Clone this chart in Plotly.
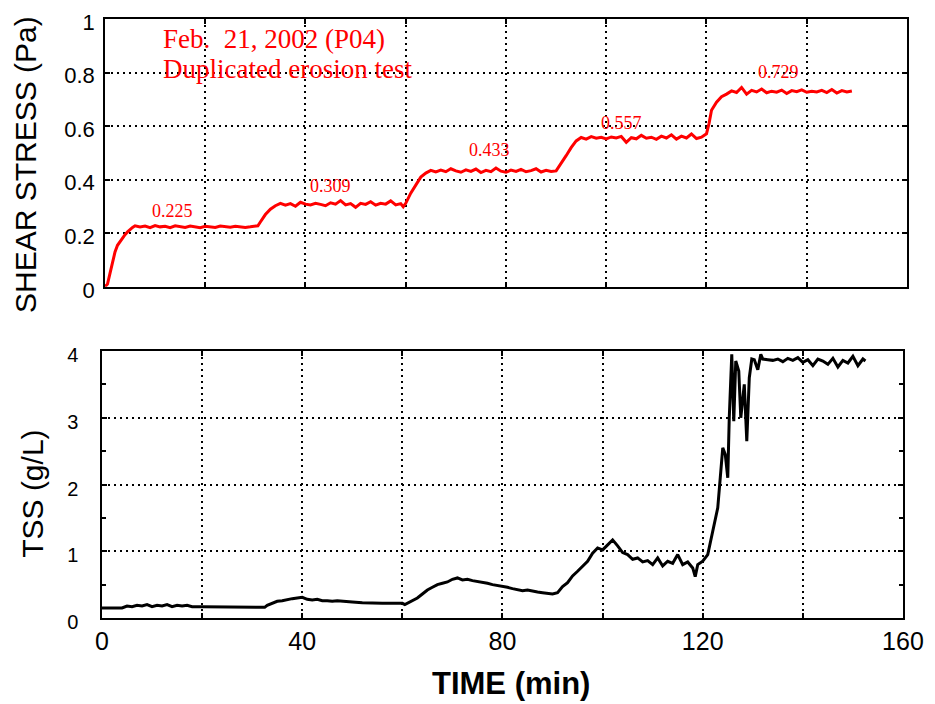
import plotly.graph_objects as go

# shear stress record (min, Pa)
shear_t = [0, 0.5, 1, 1.5, 2, 2.5, 3, 3.5, 4, 4.5, 5, 5.5, 6, 7, 8, 9, 10, 11, 12, 13, 14, 15, 16, 17, 18, 19,
           20, 21, 22, 23, 24, 25, 26, 27, 28, 29, 30, 30.5, 31, 32, 33, 34, 35, 36, 37, 38, 39, 40, 41, 42,
           43, 44, 45, 46, 47, 48, 49, 50, 51, 52, 53, 54, 55, 56, 57, 58, 59, 59.5, 60, 60.5, 61, 62, 63, 64,
           65, 66, 67, 68, 69, 70, 71, 72, 73, 74, 75, 76, 77, 78, 79, 80, 81, 82, 83, 84, 85, 86, 87, 88, 89,
           90, 91, 92, 93, 94, 95, 96, 97, 98, 99, 100, 101, 102, 103, 104, 105, 106, 107, 108, 109, 110, 111,
           112, 113, 114, 115, 116, 117, 118, 119, 120, 120.5, 121, 122, 123, 124, 125, 126, 127, 128, 129,
           130, 131, 132, 133, 134, 135, 136, 137, 138, 139, 140, 141, 142, 143, 144, 145, 146, 147, 148, 149,
           149.5]
shear_v = [0, 0.01, 0.05, 0.09, 0.13, 0.155, 0.17, 0.185, 0.195, 0.205, 0.215, 0.222, 0.228, 0.224, 0.227,
           0.221, 0.229, 0.224, 0.226, 0.221, 0.228, 0.225, 0.222, 0.227, 0.224, 0.221, 0.226, 0.225, 0.222,
           0.227, 0.224, 0.223, 0.226, 0.224, 0.222, 0.224, 0.225, 0.228, 0.242, 0.27, 0.29, 0.303, 0.312,
           0.305, 0.311, 0.301, 0.316, 0.309, 0.306, 0.312, 0.308, 0.303, 0.314, 0.309, 0.322, 0.306, 0.311,
           0.297, 0.312, 0.308, 0.318, 0.305, 0.312, 0.309, 0.321, 0.306, 0.311, 0.299, 0.312, 0.33, 0.35,
           0.38, 0.41, 0.425, 0.435, 0.429, 0.436, 0.43, 0.441, 0.433, 0.428, 0.437, 0.431, 0.44, 0.427,
           0.435, 0.43, 0.444, 0.432, 0.428, 0.436, 0.431, 0.439, 0.43, 0.434, 0.441, 0.429, 0.435, 0.431,
           0.433, 0.46, 0.49, 0.52, 0.545, 0.558, 0.552, 0.561, 0.555, 0.559, 0.553, 0.56, 0.556, 0.562, 0.54,
           0.557, 0.553, 0.566, 0.555, 0.559, 0.551, 0.563, 0.556, 0.568, 0.552, 0.563, 0.556, 0.571, 0.554,
           0.559, 0.572, 0.61, 0.66, 0.69, 0.71, 0.72, 0.732, 0.726, 0.745, 0.72, 0.734, 0.728, 0.739, 0.725,
           0.731, 0.727, 0.735, 0.722, 0.733, 0.729, 0.736, 0.727, 0.731, 0.728, 0.734, 0.726, 0.737, 0.724,
           0.733, 0.728, 0.732]

# total suspended solids record (min, g/L)
tss_t = [0, 1, 2, 3, 4, 5, 6, 7, 8, 9, 10, 11, 12, 13, 14, 15, 16, 17, 18, 20, 22, 24, 26, 28, 30, 32, 32.5,
         33, 34, 35, 36, 37, 38, 39, 40, 41, 42, 43, 44, 45, 46, 47, 48, 49, 50, 52, 54, 56, 58, 60, 60.5, 61,
         62, 63, 64, 65, 66, 67, 68, 69, 70, 71, 72, 73, 74, 75, 76, 77, 78, 79, 80, 81, 82, 83, 84, 85, 86,
         87, 88, 89, 90, 91, 92, 93, 94, 95, 96, 97, 98, 99, 100, 101, 102, 103, 104, 105, 106, 107, 108,
         109, 110, 111, 112, 113, 114, 115, 116, 117, 118, 118.5, 119, 120, 121, 122, 123, 123.5, 124, 124.5,
         125, 125.3, 125.8, 126.2, 126.6, 127.2, 127.6, 128.3, 128.8, 129.3, 129.8, 130.3, 131, 131.6, 132,
         133, 134, 135, 136, 137, 138, 139, 140, 141, 142, 143, 144, 145, 146, 147, 148, 149, 150, 151, 152,
         152.5]
tss_v = [0.15, 0.15, 0.15, 0.16, 0.15, 0.18, 0.17, 0.19, 0.18, 0.2, 0.17, 0.19, 0.18, 0.2, 0.17, 0.19, 0.18,
         0.19, 0.17, 0.17, 0.17, 0.17, 0.17, 0.17, 0.17, 0.17, 0.16, 0.19, 0.22, 0.25, 0.26, 0.28, 0.29, 0.3,
         0.31, 0.28, 0.27, 0.28, 0.26, 0.26, 0.25, 0.26, 0.25, 0.25, 0.24, 0.23, 0.22, 0.22, 0.22, 0.22, 0.2,
         0.22, 0.25, 0.3, 0.36, 0.42, 0.46, 0.5, 0.52, 0.54, 0.58, 0.6, 0.57, 0.58, 0.56, 0.55, 0.54, 0.52,
         0.5, 0.49, 0.47, 0.46, 0.44, 0.43, 0.41, 0.42, 0.4, 0.39, 0.38, 0.37, 0.36, 0.38, 0.47, 0.53, 0.63,
         0.7, 0.78, 0.85, 0.97, 1.05, 1.02, 1.1, 1.17, 1.08, 0.98, 0.95, 0.88, 0.9, 0.84, 0.86, 0.8, 0.9, 0.78,
         0.85, 0.82, 0.95, 0.8, 0.84, 0.75, 0.62, 0.8, 0.85, 0.95, 1.3, 1.65, 2.1, 2.55, 2.45, 2.1, 3.0, 3.95,
         2.95, 3.85, 3.7, 3.0, 3.5, 2.65, 3.6, 3.88, 3.87, 3.72, 3.95, 3.88, 3.87, 3.86, 3.88, 3.84, 3.89,
         3.86, 3.9, 3.83, 3.87, 3.78, 3.88, 3.85, 3.8, 3.89, 3.76, 3.86, 3.82, 3.92, 3.78, 3.88, 3.85]

step_times = [13.4, 45, 76.8, 103, 134.4]
step_labels = ["0.225", "0.309", "0.433", "0.557", "0.729"]
step_label_y = [0.284, 0.377, 0.511, 0.612, 0.803]

AX = dict(showline=True, linecolor="black", linewidth=1.5, mirror="ticks", automargin=False,
          ticks="inside", ticklen=5, tickcolor="black", tickwidth=1.5,
          showgrid=True, gridcolor="black", gridwidth=1.5, griddash="2px,4px",
          zeroline=False, tickfont=dict(family="Liberation Sans", size=22, color="black"))

fig = go.Figure()
fig.add_trace(go.Scatter(x=shear_t, y=shear_v, mode="lines", line=dict(color="#ff0000", width=3),
                         xaxis="x", yaxis="y", showlegend=False))
fig.add_trace(go.Scatter(x=tss_t, y=tss_v, mode="lines", line=dict(color="black", width=3),
                         xaxis="x2", yaxis="y2", showlegend=False))

# page body adds an 8px margin, so the figure is sized to fit the window
fig.update_layout(
    width=927, height=696,
    margin=dict(l=94, r=28, t=10, b=86, autoexpand=False),
    paper_bgcolor="white", plot_bgcolor="white",
    xaxis=dict(AX, domain=[0.0037, 1], range=[0, 160], tickvals=list(range(0, 161, 20)),
               showticklabels=False, anchor="y"),
    yaxis=dict(AX, domain=[0.552, 0.998], range=[0, 1], tickvals=[0, 0.2, 0.4, 0.6, 0.8, 1],
               ticktext=["0", "0.2", "0.4", "0.6", "0.8", "1"], ticklabelstandoff=4, ticklabelshift=3,
               anchor="x"),
    xaxis2=dict(AX, domain=[0, 0.995], range=[0, 160], tickvals=list(range(0, 161, 20)),
                ticktext=["0", "", "40", "", "80", "", "120", "", "160"],
                tickfont=dict(family="Liberation Sans", size=25, color="black"), anchor="y2"),
    yaxis2=dict(AX, domain=[0, 0.445], range=[0, 4], tickvals=[0, 1, 2, 3, 4],
                tickfont=dict(family="Liberation Sans", size=20, color="black"),
                minor=dict(dtick=0.5, ticks="inside", ticklen=4, tickcolor="black", showgrid=False),
                ticklabelstandoff=18, ticklabelshift=4, anchor="x2"),
)

for t, lab, y in zip(step_times, step_labels, step_label_y):
    fig.add_annotation(x=t, y=y, xref="x", yref="y", text=lab, showarrow=False,
                       font=dict(family="Liberation Serif", size=18, color="#ff0000"))

fig.add_annotation(x=11.2, y=0.925, xref="x", yref="y", xanchor="left", text="Feb.  21, 2002 (P04)",
                   showarrow=False, font=dict(family="Liberation Serif", size=27, color="#ff0000"))
fig.add_annotation(x=11.2, y=0.815, xref="x", yref="y", xanchor="left", text="Duplicated erosion test",
                   showarrow=False, font=dict(family="Liberation Serif", size=27, color="#ff0000"))

fig.add_annotation(x=0, y=0.755, xref="paper", yref="paper", xshift=-77, textangle=-90,
                   xanchor="center", yanchor="middle",
                   text="SHEAR STRESS (Pa)", showarrow=False,
                   font=dict(family="Liberation Sans", size=30, color="black"))
fig.add_annotation(x=0, y=0.207, xref="paper", yref="paper", xshift=-69, textangle=-90,
                   xanchor="center", yanchor="middle",
                   text="TSS (g/L)", showarrow=False,
                   font=dict(family="Liberation Sans", size=30, color="black"))
fig.add_annotation(x=0.508, y=0, xref="paper", yref="paper", yshift=-65, yanchor="middle",
                   text="<b>TIME (min)</b>", showarrow=False,
                   font=dict(family="Liberation Sans", size=31, color="black"))

fig.write_html("out.html")
